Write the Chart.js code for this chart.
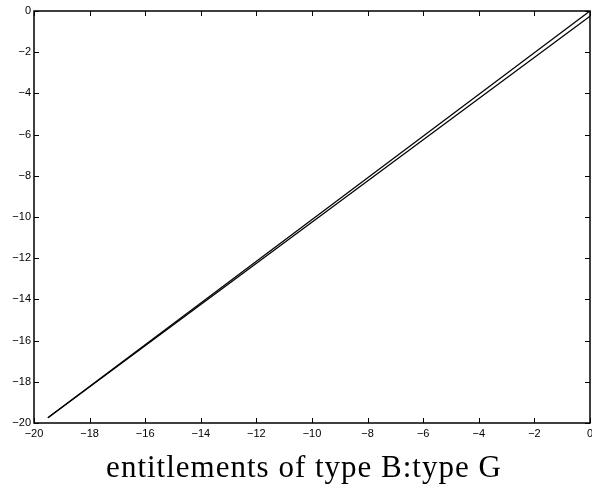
<!DOCTYPE html>
<html>
<head>
<meta charset="utf-8">
<script src="https://cdn.jsdelivr.net/npm/chart.js@4"></script>
<style>
  html, body { margin: 0; padding: 0; background: #fff; }
  #wrap { width: 592px; height: 490px; }
</style>
</head>
<body>
<div id="wrap"><canvas id="chart" width="592" height="490"></canvas></div>
<script>
// two straight lines
const lineAx = [-19.5, 0];
const lineAy = [-19.75, 0];
const lineBx = [-19.5, 0];
const lineBy = [-19.75, -0.25];
const xTicks = [-20, -18, -16, -14, -12, -10, -8, -6, -4, -2, 0];
const yTicks = [-20, -18, -16, -14, -12, -10, -8, -6, -4, -2, 0];
const titleText = 'entitlements of type B:type G';

function toPoints(xs, ys) {
    return xs.map((x, i) => ({ x: x, y: ys[i] }));
}

function fmt(v) {
    return v < 0 ? '\u2212' + Math.abs(v) : String(v);
}

// box around the plot + inward ticks on all four sides
const boxTicks = {
    id: 'boxTicks',
    afterDraw(chart) {
        const ctx = chart.ctx;
        const a = chart.chartArea;
        const xs = chart.scales.x;
        const ys = chart.scales.y;
        const len = 5;
        ctx.save();
        ctx.strokeStyle = '#000';
        ctx.lineWidth = 1;
        ctx.beginPath();
        xTicks.forEach(v => {
            const px = Math.round(xs.getPixelForValue(v)) + 0.5;
            ctx.moveTo(px, a.bottom);
            ctx.lineTo(px, a.bottom - len);
            ctx.moveTo(px, a.top);
            ctx.lineTo(px, a.top + len);
        });
        yTicks.forEach(v => {
            const py = Math.round(ys.getPixelForValue(v)) + 0.5;
            ctx.moveTo(a.left, py);
            ctx.lineTo(a.left + len, py);
            ctx.moveTo(a.right, py);
            ctx.lineTo(a.right - len, py);
        });
        ctx.stroke();
        ctx.lineWidth = 1.5;
        ctx.strokeRect(a.left, a.top, a.right - a.left, a.bottom - a.top);
        ctx.restore();
    }
};

// caption under the plot (LaTeX-ish serif, a bit spread out)
const caption = {
    id: 'caption',
    afterDraw(chart) {
        const ctx = chart.ctx;
        ctx.save();
        ctx.fillStyle = '#000';
        ctx.font = '31px "Liberation Serif"';
        if ('letterSpacing' in ctx) ctx.letterSpacing = '1px';
        ctx.textAlign = 'center';
        ctx.textBaseline = 'alphabetic';
        ctx.fillText(titleText, 304, 477);
        ctx.restore();
    }
};

const ctx = document.getElementById('chart').getContext('2d');
new Chart(ctx, {
    type: 'scatter',
    data: {
        datasets: [{
            data: toPoints(lineAx, lineAy),
            showLine: true,
            borderColor: '#000',
            borderWidth: 1.3,
            pointRadius: 0,
            fill: false
        }, {
            data: toPoints(lineBx, lineBy),
            showLine: true,
            borderColor: '#000',
            borderWidth: 1.3,
            pointRadius: 0,
            fill: false
        }]
    },
    options: {
        responsive: false,
        animation: false,
        layout: { padding: { left: 0, right: 2, top: 11, bottom: 0 } },
        plugins: {
            legend: { display: false },
            tooltip: { enabled: false }
        },
        scales: {
            x: {
                type: 'linear',
                min: -20,
                max: 0,
                afterBuildTicks: s => { s.ticks = xTicks.map(v => ({ value: v })); },
                afterFit: s => {
                    s.height = 67;
                    s.paddingLeft = 0;
                    s.paddingRight = 0;
                },
                grid: { display: false, drawTicks: false },
                border: { display: false },
                ticks: {
                    color: '#000',
                    padding: 4,
                    maxRotation: 0,
                    autoSkip: false,
                    font: { family: 'Liberation Sans', size: 11 },
                    callback: v => fmt(v)
                }
            },
            y: {
                type: 'linear',
                min: -20,
                max: 0,
                afterBuildTicks: s => { s.ticks = yTicks.map(v => ({ value: v })); },
                afterFit: s => {
                    s.width = 34;
                    s.paddingTop = 0;
                    s.paddingBottom = 0;
                },
                grid: { display: false, drawTicks: false },
                border: { display: false },
                ticks: {
                    color: '#000',
                    padding: 3,
                    autoSkip: false,
                    font: { family: 'Liberation Sans', size: 11 },
                    callback: v => fmt(v)
                }
            }
        }
    },
    plugins: [boxTicks, caption]
});
</script>
</body>
</html>
